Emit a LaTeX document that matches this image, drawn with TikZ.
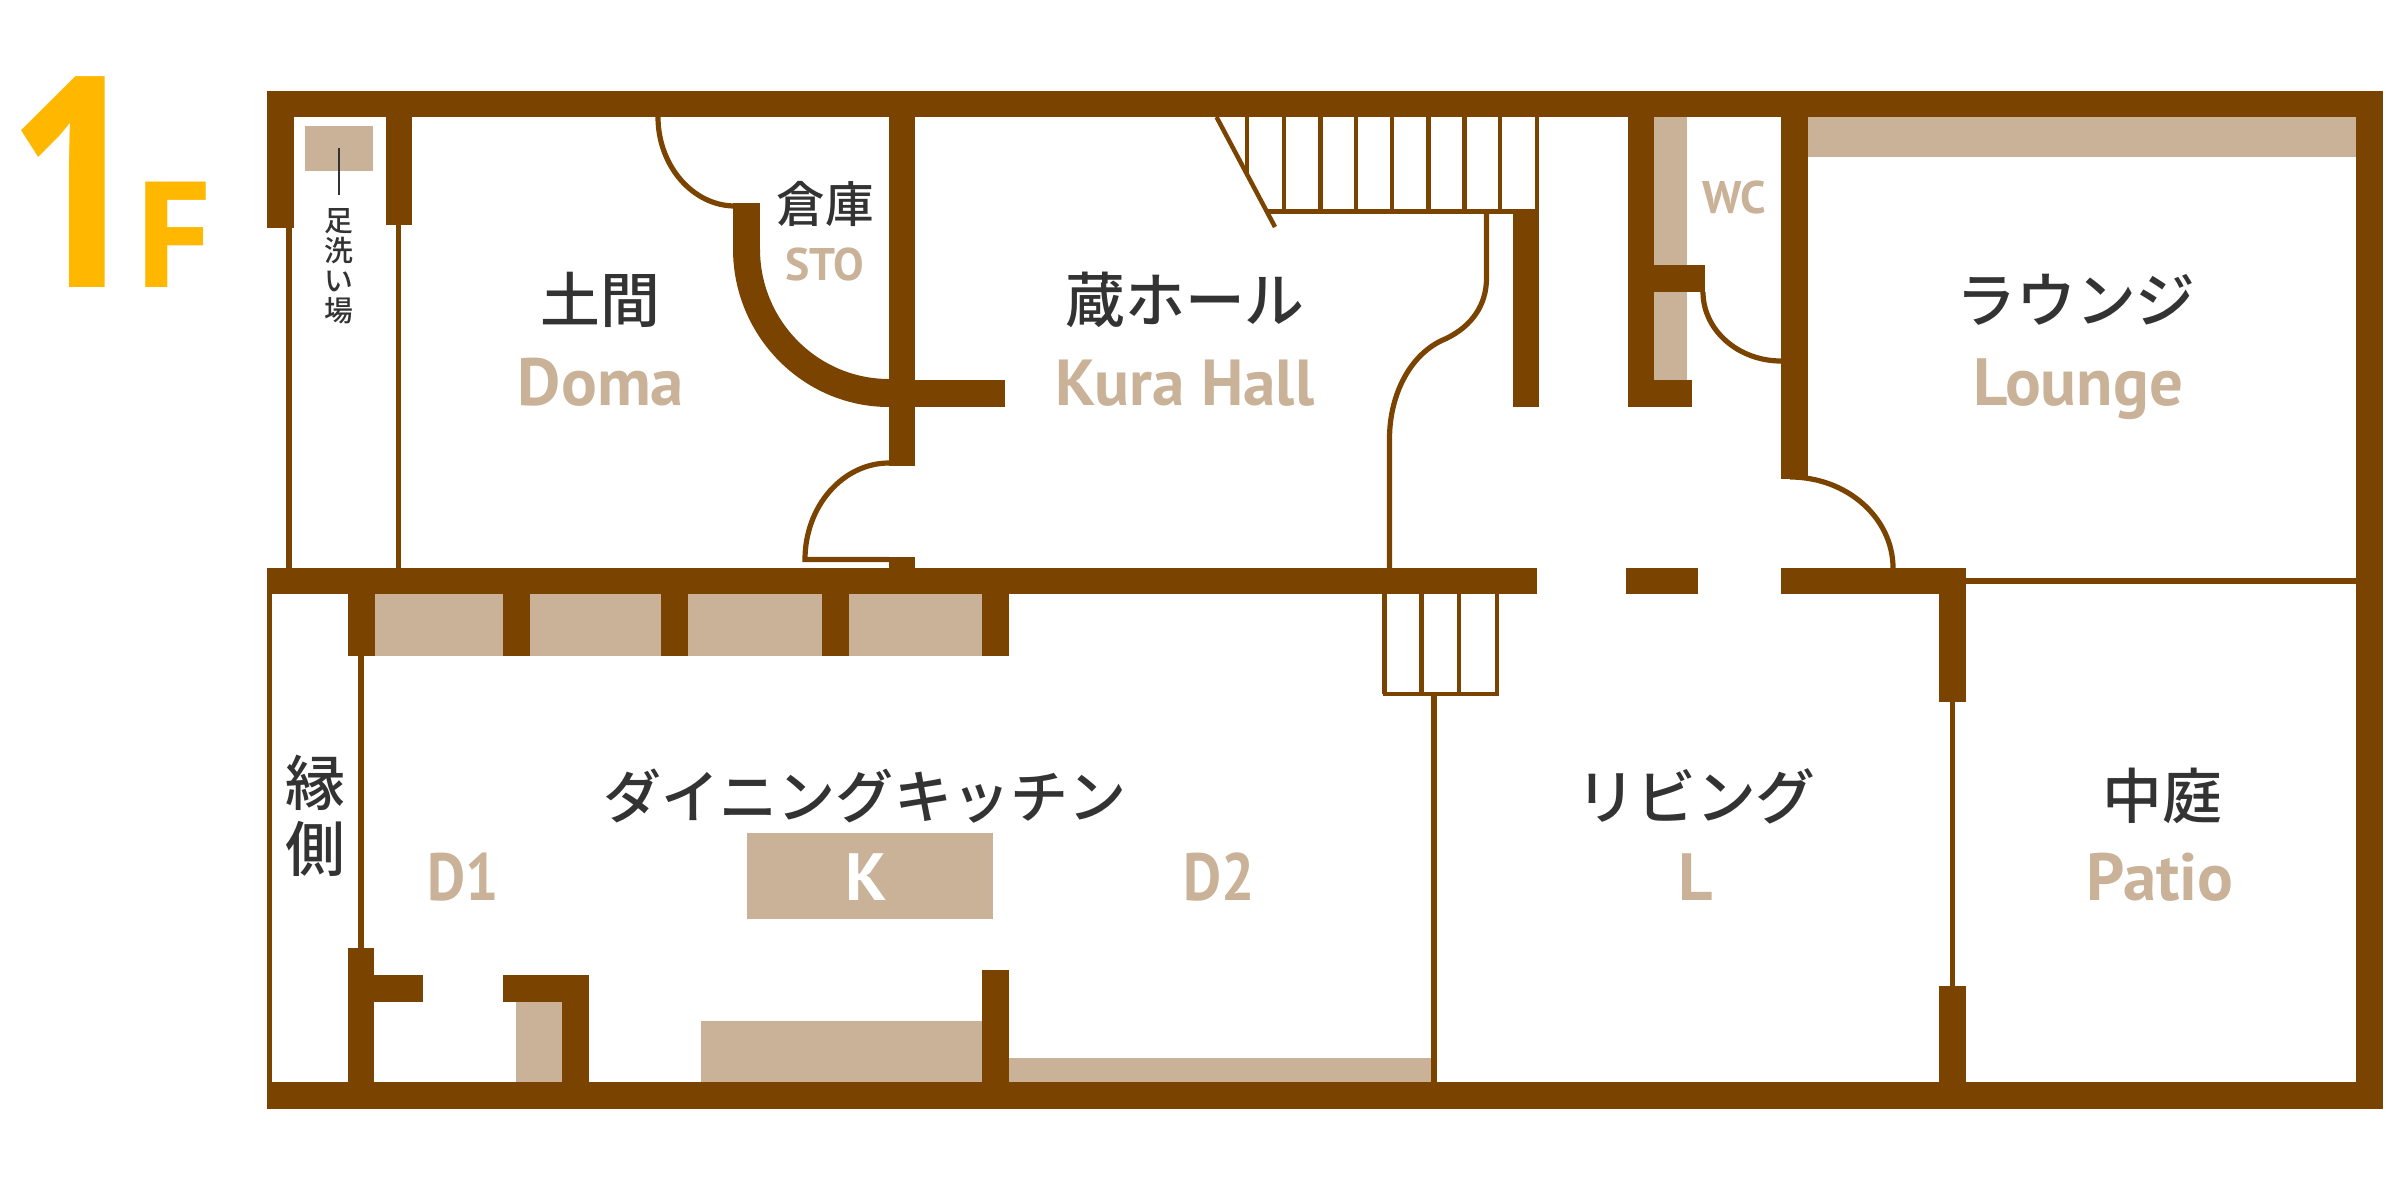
\documentclass[tikz,border=0pt]{standalone}
\usepackage{fontspec}
\newfontfamily\jpfont{Noto Sans CJK JP Medium}
\newfontfamily\enfont{PT Sans}
\newfontfamily\ennarrow[FakeStretch=0.88]{PT Sans}
\newfontfamily\floorfont{Open Sans}
\newfontfamily\floornarrow[FakeStretch=0.8]{Open Sans}
\definecolor{wallbrown}{HTML}{7A4400}
\definecolor{fixbeige}{HTML}{C9B298}
\definecolor{floorgold}{HTML}{FFB700}
\definecolor{inkgrey}{HTML}{333333}
\tikzset{
    wall/.style = {fill = wallbrown},
    fixture/.style = {fill = fixbeige},
    thinwall/.style = {draw = wallbrown, line width = 0.052cm},
    stairline/.style = {draw = wallbrown, line width = 0.045cm},
    roomname/.style = {
        inner sep = 0, text = inkgrey,
        font = \jpfont\fontsize{17}{17}\selectfont,
    },
    roomlatin/.style = {
        inner sep = 0, anchor = base, text = fixbeige,
        font = \enfont\bfseries\fontsize{19}{19}\selectfont,
    },
    narrowlatin/.style = {
        roomlatin,
        font = \ennarrow\bfseries\fontsize{19}{19}\selectfont,
    },
    smalllatin/.style = {
        roomlatin,
        font = \enfont\bfseries\fontsize{13}{13}\selectfont,
    },
    floorbig/.style = {
        inner sep = 0, anchor = base, text = floorgold,
        font = \floornarrow\bfseries\fontsize{84}{84}\selectfont,
    },
    floorsmall/.style = {
        inner sep = 0, anchor = base, text = floorgold,
        font = \floorfont\bfseries\fontsize{42}{42}\selectfont,
    },
}
\begin{document}
\begin{tikzpicture}[x = 0.01cm, y = -0.01cm]
    \useasboundingbox (0,0) rectangle (2400,1200);

    % Fixtures
    \fill[fixture] (305,126) rectangle (373,171);
    \fill[fixture] (374,594) rectangle (982,656);
    \fill[fixture] (516,1002) rectangle (562,1082);
    \fill[fixture] (701,1021) rectangle (982,1082);
    \fill[fixture] (1009,1058) rectangle (1432,1082);
    \fill[fixture] (747,833) rectangle (993,919);
    \fill[fixture] (1654,117) rectangle (1687,380);
    \fill[fixture] (1808,117) rectangle (2356,157);

    % Outer walls
    \fill[wall] (267,91) rectangle (2383,117);
    \fill[wall] (267,1082) rectangle (2383,1109);
    \fill[wall] (2356,91) rectangle (2383,1109);
    \fill[wall] (267,91) rectangle (294,228);
    \fill[wall] (386,117) rectangle (412,225);
    \fill[wall] (267,594) rectangle (272,1082);

    % Middle wall
    \fill[wall] (267,568) rectangle (1537,594);
    \fill[wall] (1626,568) rectangle (1698,594);
    \fill[wall] (1781,568) rectangle (1966,594);
    \fill[wall] (1939,594) rectangle (1966,702);
    \fill[wall] (1939,986) rectangle (1966,1082);

    % Inner walls, upper floor half
    \fill[wall] (889,117) rectangle (915,466);
    \fill[wall] (915,380) rectangle (1005,407);
    \fill[wall] (889,557) rectangle (915,568);
    \fill[wall] (733,203) rectangle (760,249);
    \fill[wall] (733,249) .. controls (733,336) and (803,407) .. (889,407)
        -- (889,379) .. controls (818,379) and (760,321) .. (760,249) -- cycle;
    \fill[wall] (1513,209) rectangle (1539,407);
    \fill[wall] (1628,117) rectangle (1654,407);
    \fill[wall] (1628,380) rectangle (1692,407);
    \fill[wall] (1654,265) rectangle (1705,292);
    \fill[wall] (1781,117) rectangle (1808,479);

    % Inner walls, lower floor half
    \foreach \pillarx in {348,503,661,822,982}
        \fill[wall] (\pillarx,594) rectangle (\pillarx+27,656);
    \fill[wall] (348,948) rectangle (374,1082);
    \fill[wall] (374,975) rectangle (423,1002);
    \fill[wall] (503,975) rectangle (589,1002);
    \fill[wall] (562,975) rectangle (589,1082);
    \fill[wall] (982,970) rectangle (1009,1082);

    % Thin partitions
    \draw[thinwall] (289,227) -- (289,568);
    \draw[thinwall] (398.5,225) -- (398.5,568);
    \draw[thinwall] (361,656) -- (361,948);
    \draw[thinwall] (1434,694) -- (1434,1082);
    \draw[thinwall] (1952.5,702) -- (1952.5,986);
    \draw[thinwall] (1966,581) -- (2356,581);

    % Doors
    \draw[thinwall] (658,117) .. controls (658,166) and (693,206) .. (735,206);
    \draw[thinwall] (889,463) .. controls (843,463) and (805,506) .. (805,559.5) -- (889,559.5);
    \draw[thinwall] (1703,292) .. controls (1703,330) and (1738,361) .. (1781,361);
    \draw[thinwall] (1790,477) .. controls (1847,477) and (1893,518) .. (1893,568);
    \draw[thinwall] (1486.5,212) -- (1486.5,278)
        .. controls (1486.5,305) and (1472,326) .. (1446,338.6)
        .. controls (1410,353) and (1389.5,395) .. (1389.5,438.6) -- (1389.5,568);

    % Stairs
    \foreach \stepx in {1284,1320.5,1356,1392,1428.5,1464.5,1500,1537}
        \draw[stairline] (\stepx,117) -- (\stepx,211.5);
    \draw[stairline] (1247,117) -- (1247,174);
    \draw[stairline] (1268,211.5) -- (1537,211.5);
    \draw[stairline] (1216.5,117) -- (1275,227);
    \foreach \stepx in {1384.5,1421.5,1459,1497}
        \draw[stairline] (\stepx,594) -- (\stepx,694);
    \draw[stairline] (1382.5,694) -- (1499,694);

    % Labels
    \node[floorbig] (floor_one) at (75,287) {1};
    \node[floorsmall] (floor_f) at (173,287) {F};

    \draw[draw = inkgrey, line width = 0.02cm] (338.5,148) -- (338.5,195);
    \node[inner sep = 0, align = center, text = inkgrey,
        font = \jpfont\fontsize{8.2}{8.5}\selectfont] (footbath) at (339,266) {足\\洗\\い\\場};

    \node[roomname] (doma) at (600,300) {土間};
    \node[roomlatin] (doma_en) at (601,405) {Doma};
    \node[roomname, font = \jpfont\fontsize{13.8}{13.8}\selectfont] (storage) at (825,204) {倉庫};
    \node[smalllatin] (storage_en) at (825,280) {STO};
    \node[roomname] (kura) at (1185,300) {蔵ホール};
    \node[roomlatin, font = \enfont\bfseries\fontsize{18.5}{18.5}\selectfont] (kura_en) at (1185,405) {Kura Hall};
    \node[smalllatin] (toilet_en) at (1734,213) {WC};
    \node[roomname] (lounge) at (2076,300) {ラウンジ};
    \node[roomlatin] (lounge_en) at (2078,405) {Lounge};

    \node[roomname, align = center, font = \jpfont\fontsize{17}{18.8}\selectfont] (veranda) at (315,816) {縁\\側};
    \node[roomname, font = \jpfont\fontsize{16.5}{16.5}\selectfont] (dining) at (865,796) {ダイニングキッチン};
    \node[narrowlatin] (dining_one) at (463,900) {D1};
    \node[roomlatin, text = white] (kitchen) at (866,900) {K};
    \node[narrowlatin] (dining_two) at (1219,900) {D2};
    \node[roomname] (living) at (1696,796) {リビング};
    \node[roomlatin] (living_en) at (1696,900) {L};
    \node[roomname] (patio) at (2162,796) {中庭};
    \node[roomlatin] (patio_en) at (2160,900) {Patio};
\end{tikzpicture}
\end{document}
